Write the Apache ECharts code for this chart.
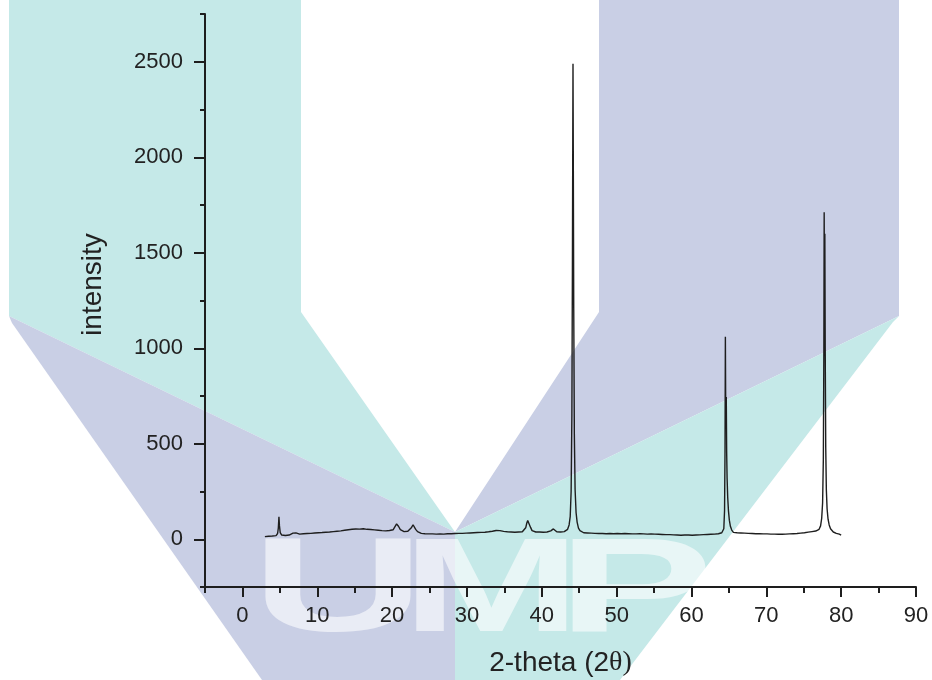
<!DOCTYPE html>
<html>
<head>
<meta charset="utf-8">
<script src="https://cdn.jsdelivr.net/npm/echarts@6/dist/echarts.min.js"></script>
<style>
html,body{margin:0;padding:0;background:#fff;}
#chart{width:932px;height:680px;}
</style>
</head>
<body>
<div id="chart"></div>
<script>
// XRD scan: [2-theta, intensity]
const scan = [
[3.00,14],[3.25,12],[3.50,16],[3.75,13],[4.00,17],[4.25,15],[4.50,19],[4.70,30],[4.80,60],[4.88,118],[4.95,70],[5.05,35],[5.25,22],[5.50,24],[5.75,20],[6.00,25],[6.25,22],[6.50,26],[6.75,32],[6.95,42],[7.15,33],[7.40,24],[7.65,27],[7.90,25],
[8.15,29],[8.40,26],[8.65,30],[8.90,27],[9.15,31],[9.40,29],[9.65,33],[9.90,30],[10.15,34],[10.40,31],[10.65,35],[10.90,33],[11.15,37],[11.40,34],[11.65,38],[11.90,36],[12.15,40],[12.40,37],[12.65,42],[12.90,39],[13.15,44],[13.40,41],[13.65,47],[13.90,44],
[14.15,50],[14.40,46],[14.65,52],[14.90,48],[15.15,54],[15.40,49],[15.65,53],[15.90,50],[16.15,55],[16.40,49],[16.65,52],[16.90,47],[17.15,51],[17.40,46],[17.65,49],[17.90,44],[18.15,47],[18.40,43],[18.65,45],[18.90,41],[19.15,44],[19.40,42],[19.65,46],[19.90,45],
[20.15,50],[20.40,60],[20.60,80],[20.70,84],[20.85,68],[21.10,50],[21.35,44],[21.60,40],[21.85,38],[22.10,42],[22.35,48],[22.60,62],[22.80,76],[22.95,72],[23.15,52],[23.40,40],[23.65,34],[23.90,31],
[24.15,33],[24.40,29],[24.65,31],[24.90,28],[25.15,32],[25.40,28],[25.65,30],[25.90,27],[26.15,31],[26.40,28],[26.65,30],[26.90,27],[27.15,31],[27.40,29],[27.65,32],[27.90,29],[28.15,33],[28.40,30],[28.65,32],[28.90,31],[29.15,34],[29.40,31],[29.65,33],[29.90,32],
[30.15,35],[30.40,33],[30.65,36],[30.90,34],[31.15,37],[31.40,35],[31.65,38],[31.90,36],[32.15,39],[32.40,37],[32.65,40],[32.90,39],[33.15,43],[33.40,42],[33.65,47],[33.90,46],[34.15,48],[34.40,45],[34.65,44],[34.90,41],[35.15,42],[35.40,39],[35.65,41],[35.90,38],
[36.15,40],[36.40,37],[36.65,40],[36.90,38],[37.15,41],[37.40,39],[37.65,44],[37.85,60],[38.00,85],[38.12,98],[38.22,100],[38.35,90],[38.50,62],[38.70,45],[38.95,40],[39.20,38],[39.45,41],[39.70,38],[39.95,40],[40.20,37],[40.45,40],[40.70,38],[40.95,41],
[41.20,44],[41.40,52],[41.55,54],[41.75,44],[42.00,39],[42.25,41],[42.50,38],[42.75,41],[43.00,40],[43.25,44],[43.45,52],[43.65,75],[43.80,120],[43.92,250],[44.02,650],[44.09,1400],[44.14,2100],[44.17,2490],[44.21,2000],[44.27,1200],[44.35,550],[44.45,260],[44.58,140],[44.72,90],[44.90,58],
[45.10,45],[45.35,38],[45.60,34],[45.85,31],[46.10,33],[46.35,30],[46.60,32],[46.85,29],[47.10,31],[47.35,28],[47.60,30],[47.85,27],[48.10,30],[48.35,27],[48.60,29],[48.85,26],[49.10,30],[49.35,27],[49.60,29],[49.85,27],
[50.10,30],[50.35,26],[50.60,29],[50.85,27],[51.10,30],[51.35,27],[51.60,29],[51.85,26],[52.10,28],[52.35,25],[52.60,28],[52.85,26],[53.10,29],[53.35,26],[53.60,28],[53.85,25],[54.10,27],[54.35,25],[54.60,28],[54.85,25],[55.10,27],[55.35,31],[55.60,26],[55.85,28],
[56.10,25],[56.35,27],[56.60,24],[56.85,26],[57.10,24],[57.35,26],[57.60,23],[57.85,25],[58.10,22],[58.35,24],[58.60,21],[58.85,24],[59.10,22],[59.35,25],[59.60,22],[59.85,24],[60.10,21],[60.35,24],[60.60,22],[60.85,25],[61.10,23],[61.35,26],[61.60,24],[61.85,27],
[62.10,25],[62.35,28],[62.60,26],[62.85,29],[63.10,27],[63.35,30],[63.60,29],[63.85,32],[64.05,34],[64.20,38],[64.32,55],[64.42,150],[64.48,450],[64.53,1060],[64.57,720],[64.61,640],[64.65,745],[64.70,460],[64.76,320],[64.84,220],[64.94,150],[65.06,100],[65.20,68],[65.38,48],[65.60,36],[65.85,32],
[66.10,34],[66.35,31],[66.60,33],[66.85,30],[67.10,32],[67.35,29],[67.60,31],[67.85,28],[68.10,30],[68.35,27],[68.60,29],[68.85,26],[69.10,29],[69.35,26],[69.60,28],[69.85,25],[70.10,28],[70.35,25],[70.60,27],[70.85,24],[71.10,27],[71.35,24],[71.60,26],[71.85,23],
[72.10,26],[72.35,24],[72.60,27],[72.85,25],[73.10,28],[73.35,26],[73.60,29],[73.85,27],[74.10,30],[74.35,28],[74.60,32],[74.85,30],[75.10,34],[75.35,32],[75.60,37],[75.85,35],[76.10,40],[76.35,38],[76.60,43],[76.85,45],
[77.05,52],[77.25,70],[77.40,110],[77.52,190],[77.62,420],[77.69,1000],[77.73,1712],[77.77,1280],[77.82,1600],[77.87,1000],[77.94,480],[78.02,260],[78.12,160],[78.25,105],[78.40,75],[78.58,55],[78.75,45],[78.95,38],[79.15,35],[79.35,31],[79.55,33],[79.75,27],[80.00,22]
];

const xMajorTicks = [0,10,20,30,40,50,60,70,80,90];
const xMinorTicks = [-5,5,15,25,35,45,55,65,75,85];
const yMajorTicks = [0,500,1000,1500,2000,2500];
const yMinorTicks = [-250,250,750,1250,1750,2250,2750];

const teal = '#c5e9e8';
const purple = '#c9cfe5';
const textColor = '#222';
const axisColor = '#1e1e1e';
const sans = '"Liberation Sans", Arial, sans-serif';

const chart = echarts.init(document.getElementById('chart'), null, {renderer: 'canvas'});

const baseAxis = {
  type: 'value',
  splitLine: {show: false},
  axisLine: {show: true, onZero: false, lineStyle: {color: axisColor, width: 2}},
  z: 10
};
const plain = function (v) { return String(v); };

chart.setOption({
  animation: false,
  backgroundColor: '#fff',
  grid: {left: 205, right: 16, top: 14, bottom: 93, containLabel: false, outerBoundsMode: 'none'},
  graphic: {
    elements: [
      {type: 'polygon', z: 0, silent: true, shape: {points: [[9,0],[301,0],[301,312],[455,532],[9,316]]}, style: {fill: teal}},
      {type: 'polygon', z: 0, silent: true, shape: {points: [[9,316],[455,532],[455,680],[262,680],[12,323]]}, style: {fill: purple}},
      {type: 'polygon', z: 0, silent: true, shape: {points: [[599,0],[899,0],[899,316],[455,532],[599,312]]}, style: {fill: purple}},
      {type: 'polygon', z: 0, silent: true, shape: {points: [[899,316],[455,532],[455,680],[620,680],[893,322]]}, style: {fill: teal}},
      {type: 'text', z: 1, silent: true, x: 251, y: 594, scaleX: 1.8, style: {text: 'U', font: 'bold 134px ' + sans, fill: 'rgba(255,255,255,0.6)', verticalAlign: 'middle', align: 'left'}},
      {type: 'text', z: 1, silent: true, x: 402, y: 594, scaleX: 1.6, style: {text: 'M', font: 'bold 134px ' + sans, fill: 'rgba(255,255,255,0.6)', verticalAlign: 'middle', align: 'left'}},
      {type: 'text', z: 1, silent: true, x: 557, y: 594, scaleX: 1.75, style: {text: 'P', font: 'bold 134px ' + sans, fill: 'rgba(255,255,255,0.6)', verticalAlign: 'middle', align: 'left'}}
    ]
  },
  xAxis: [
    Object.assign({}, baseAxis, {
      min: -5, max: 90, position: 'bottom',
      axisTick: {show: true, inside: false, length: 10, customValues: xMajorTicks, lineStyle: {color: axisColor, width: 2}},
      axisLabel: {show: true, customValues: xMajorTicks, formatter: plain, margin: 18, fontSize: 22, fontFamily: sans, color: textColor},
      name: '2-theta (2{s|θ)}',
      nameLocation: 'middle',
      nameGap: 62,
      nameTextStyle: {fontSize: 28, fontFamily: sans, color: textColor, rich: {s: {fontSize: 28, fontFamily: '"Liberation Serif", "Times New Roman", serif', color: textColor}}}
    }),
    Object.assign({}, baseAxis, {
      min: -5, max: 90, position: 'bottom',
      axisLine: {show: false, onZero: false},
      axisTick: {show: true, inside: false, length: 6, customValues: xMinorTicks, lineStyle: {color: axisColor, width: 2}},
      axisLabel: {show: false}
    })
  ],
  yAxis: [
    Object.assign({}, baseAxis, {
      min: -250, max: 2750, position: 'left',
      axisTick: {show: true, inside: false, length: 11, customValues: yMajorTicks, lineStyle: {color: axisColor, width: 2}},
      axisLabel: {show: true, customValues: yMajorTicks, formatter: plain, margin: 22, fontSize: 22, fontFamily: sans, color: textColor},
      name: 'intensity',
      nameLocation: 'middle',
      nameGap: 98,
      nameTextStyle: {fontSize: 28, fontFamily: sans, color: textColor, padding: [0, 0, 0, 32]}
    }),
    Object.assign({}, baseAxis, {
      min: -250, max: 2750, position: 'left',
      axisLine: {show: false, onZero: false},
      axisTick: {show: true, inside: false, length: 5, customValues: yMinorTicks, lineStyle: {color: axisColor, width: 2}},
      axisLabel: {show: false}
    })
  ],
  series: [{
    type: 'line',
    xAxisIndex: 0,
    yAxisIndex: 0,
    data: scan,
    showSymbol: false,
    symbol: 'none',
    z: 12,
    lineStyle: {color: '#1e1e1e', width: 1.4},
    emphasis: {disabled: true}
  }]
});
</script>
</body>
</html>
